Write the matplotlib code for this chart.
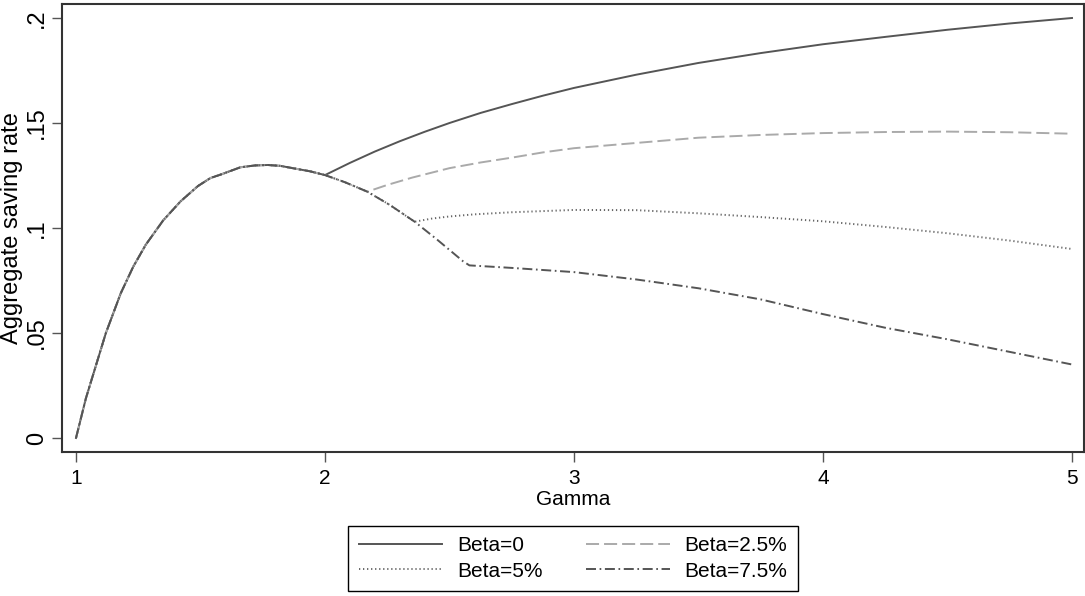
import numpy as np
import matplotlib
matplotlib.use("Agg")
import matplotlib.pyplot as plt

plt.rcParams['font.family'] = ['Liberation Sans', 'DejaVu Sans']
plt.rcParams['lines.scale_dashes'] = False

# common part shared by all curves
gamma_common = [1.0, 1.04, 1.08, 1.12, 1.18, 1.23, 1.28, 1.35, 1.42, 1.49, 1.54, 1.58, 1.66,
                1.72, 1.77, 1.82, 1.87, 1.94, 2.0, 2.08, 2.17, 2.26, 2.36, 2.45, 2.555, 2.58]
rate_common = [0.0, 0.019, 0.0345, 0.050, 0.069, 0.0816, 0.092, 0.1036, 0.1127, 0.1200, 0.1238,
               0.1254, 0.1289, 0.1298, 0.1300, 0.1296, 0.1285, 0.1270, 0.1252, 0.1218, 0.1173,
               0.111, 0.103, 0.0945, 0.0841, 0.0822]

# branches after each curve leaves the common part
gamma_b0 = [2.0, 2.1, 2.2, 2.3, 2.4, 2.5, 2.625, 2.75, 2.875, 3.0, 3.25, 3.5, 3.75, 4.0,
            4.25, 4.5, 4.75, 5.0]
rate_b0 = [0.1252, 0.131, 0.1364, 0.1413, 0.1458, 0.150, 0.1548, 0.159, 0.163, 0.1667,
           0.173, 0.1786, 0.1833, 0.1875, 0.191, 0.1944, 0.1974, 0.200]

gamma_b25 = [2.17, 2.25, 2.35, 2.5, 2.625, 2.75, 2.875, 3.0, 3.25, 3.5, 3.75, 4.0, 4.25,
             4.5, 4.75, 5.0]
rate_b25 = [0.1173, 0.1205, 0.124, 0.1285, 0.1312, 0.1335, 0.136, 0.138, 0.1405, 0.143,
            0.1443, 0.1452, 0.1457, 0.1459, 0.1456, 0.1449]

gamma_b5 = [2.36, 2.43, 2.5, 2.6, 2.75, 3.0, 3.25, 3.5, 3.75, 4.0, 4.25, 4.5, 4.75, 5.0]
rate_b5 = [0.103, 0.1045, 0.1055, 0.1065, 0.1075, 0.1086, 0.1085, 0.107, 0.1052, 0.1032,
           0.1005, 0.0975, 0.094, 0.090]

gamma_b75 = [2.58, 2.75, 3.0, 3.25, 3.5, 3.75, 4.0, 4.25, 4.5, 4.75, 5.0]
rate_b75 = [0.0822, 0.081, 0.079, 0.0755, 0.0713, 0.066, 0.059, 0.0525, 0.047, 0.041, 0.035]

labels = ['Beta=0', 'Beta=2.5%', 'Beta=5%', 'Beta=7.5%']
xticks = [1, 2, 3, 4, 5]
yticks = [0, 0.05, 0.1, 0.15, 0.2]
yticklabels = ['0', '.05', '.1', '.15', '.2']


def series(gb, rb):
    gc = np.array(gamma_common)
    rc = np.array(rate_common)
    keep = gc < gb[0] - 1e-9
    return np.concatenate([gc[keep], gb]), np.concatenate([rc[keep], rb])


fig = plt.figure(figsize=(10.85, 5.96), dpi=100)
ax = fig.add_axes([62 / 1085, 1 - 452 / 596, 1022 / 1085, 448 / 596])

styles = [
    dict(color='#555555', linestyle='-'),
    dict(color='#aaaaaa', dashes=(9.4, 3.6)),
    dict(color='#666666', dashes=(0.9, 2.0)),
    dict(color='#555555', dashes=(7.2, 2.6, 1.2, 2.6)),
]
branches = [(gamma_b0, rate_b0), (gamma_b25, rate_b25), (gamma_b5, rate_b5), (gamma_b75, rate_b75)]
lines = []
for (gb, rb), st, lab in zip(branches, styles, labels):
    x, y = series(gb, rb)
    l, = ax.plot(x, y, lw=1.4, label=lab, **st)
    lines.append(l)

ax.set_xlim(1 - 14 / 249, 5 + 12 / 249)
ax.set_ylim(-14 / 2100, 0.2 + 14 / 2100)
ax.set_xticks(xticks)
ax.set_xticklabels([str(t) for t in xticks])
ax.set_yticks(yticks)
ax.set_yticklabels(yticklabels, rotation=90, va='center')
ax.tick_params(direction='out', length=7, width=1, color='#555555')
ax.tick_params(axis='x', labelsize=15, pad=5)
ax.tick_params(axis='y', labelsize=17, pad=3)
for s in ax.spines.values():
    s.set_color('#333333')
    s.set_linewidth(1.5)

ax.set_xlabel('Gamma', fontsize=15, labelpad=2)
ax.set_ylabel('Aggregate saving rate', fontsize=17, labelpad=2)

# row-wise order like the original: Beta=0, Beta=2.5% / Beta=5%, Beta=7.5%
order = [0, 2, 1, 3]
leg = fig.legend([lines[i] for i in order], [labels[i] for i in order], ncol=2,
                 loc='upper center', bbox_to_anchor=(573 / 1085, 1 - 526 / 596),
                 fontsize=15, handlelength=4.0, handletextpad=0.72, columnspacing=2.1,
                 borderpad=0.5, labelspacing=0.3, fancybox=False, framealpha=1,
                 edgecolor='#000000', borderaxespad=0)
leg.get_frame().set_linewidth(1.0)

fig.savefig('out.png', dpi=100)
